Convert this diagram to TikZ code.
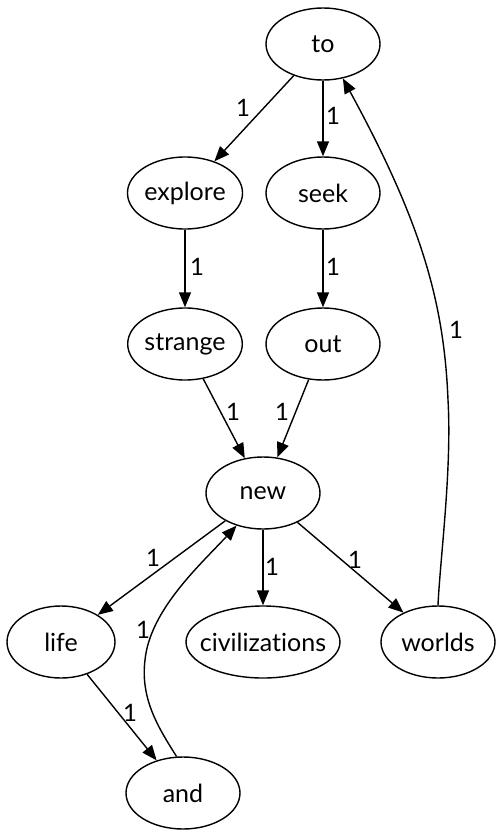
\documentclass[tikz,border=0pt]{standalone}
\usepackage{fontspec}
\setmainfont{Lato}[Ligatures={NoCommon,NoRare,NoDiscretionary}]
\usetikzlibrary{arrows.meta,shapes.geometric}
\begin{document}
\begin{tikzpicture}[x=1pt,y=-1pt,
  nd/.style={ellipse,draw,line width=1.4pt,minimum width=114pt,minimum height=72pt,inner sep=0pt,font=\fontsize{25}{30}\selectfont},
  edge/.style={draw,line width=1.4pt,-{Triangle[length=15pt,width=12pt]}},
  lbl/.style={font=\fontsize{24}{28}\selectfont,inner sep=0pt}]
\useasboundingbox (0,0) rectangle (497,835);
\node[nd] (to) at (323,44) {to};
\node[nd] (explore) at (185,193) {explore};
\node[nd] (seek) at (323,193) {seek};
\node[nd] (strange) at (185,344) {strange};
\node[nd] (out) at (323,344) {out};
\node[nd] (new) at (263,493) {new};
\node[nd,minimum width=108pt] (life) at (61,642) {life};
\node[nd,minimum width=154pt] (civ) at (263,642) {\makebox[0pt]{civilizations}};
\node[nd] (worlds) at (438,642) {worlds};
\node[nd] (and) at (183,793) {and};
\draw[edge] (to) -- (explore);
\draw[edge] (to) -- (seek);
\draw[edge] (explore) -- (strange);
\draw[edge] (seek) -- (out);
\draw[edge] (strange) -- (new);
\draw[edge] (out) -- (new);
\draw[edge] (new) -- (life);
\draw[edge] (new) -- (civ);
\draw[edge] (new) -- (worlds);
\draw[edge] (life) -- (and);
\draw[edge] (and.100) .. controls (160,730) and (140,700) .. (145,660) .. controls (150,610) and (200,565) .. (new.231);
\draw[edge] (worlds.90) .. controls (440,560) and (452,470) .. (448,400) .. controls (444,300) and (420,220) .. (to.-60);
\node[lbl] (l1) at (243,108) {1};
\node[lbl] (l2) at (333,116) {1};
\node[lbl] (l3) at (197,267) {1};
\node[lbl] (l4) at (333,267) {1};
\node[lbl] (l5) at (233,412) {1};
\node[lbl] (l6) at (282,412) {1};
\node[lbl] (l7) at (153,558) {1};
\node[lbl] (l8) at (272,567) {1};
\node[lbl] (l9) at (355,560) {1};
\node[lbl] (l10) at (130,713) {1};
\node[lbl] (l11) at (143,630) {1};
\node[lbl] (l12) at (456,330) {1};
\end{tikzpicture}
\end{document}
